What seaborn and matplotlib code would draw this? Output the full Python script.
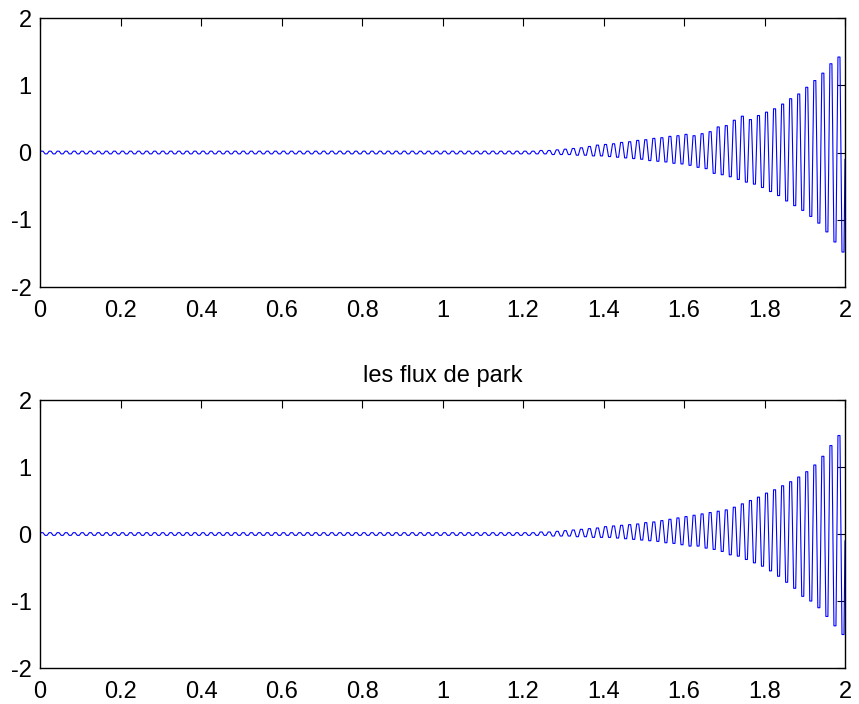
import numpy as np
import matplotlib
matplotlib.use('Agg')
import matplotlib.pyplot as plt
import pandas as pd
import seaborn as sns


#%% DATOS (picos por ciclo; 50 Hz -> 100 ciclos en 2 s)

## Grafico de arriba ----
pico_sup_1 = ([0.02] * 60 +
              [0.02, 0.02, 0.03, 0.03, 0.04, 0.05, 0.06, 0.07, 0.09, 0.11,
               0.12, 0.13, 0.15, 0.16, 0.18, 0.19, 0.21, 0.22, 0.24, 0.25,
               0.27, 0.25, 0.28, 0.31, 0.38, 0.40, 0.48, 0.54, 0.49, 0.55,
               0.60, 0.65, 0.72, 0.80, 0.87, 0.97, 1.07, 1.18, 1.32, 1.42])
pico_inf_1 = ([-0.02] * 60 +
              [-0.02, -0.02, -0.02, -0.03, -0.03, -0.03, -0.04, -0.04, -0.05, -0.05,
               -0.06, -0.07, -0.08, -0.09, -0.10, -0.12, -0.13, -0.14, -0.16, -0.17,
               -0.19, -0.22, -0.24, -0.31, -0.33, -0.36, -0.40, -0.44, -0.47, -0.52,
               -0.58, -0.64, -0.72, -0.79, -0.86, -0.95, -1.05, -1.18, -1.33, -1.48])

## Grafico de abajo (les flux de park) ----
pico_sup_2 = ([0.02] * 60 +
              [0.02, 0.02, 0.03, 0.03, 0.04, 0.05, 0.06, 0.07, 0.08, 0.09,
               0.11, 0.12, 0.13, 0.14, 0.15, 0.17, 0.18, 0.20, 0.22, 0.24,
               0.26, 0.28, 0.30, 0.32, 0.34, 0.36, 0.40, 0.45, 0.50, 0.55,
               0.61, 0.66, 0.72, 0.78, 0.85, 0.93, 1.03, 1.16, 1.32, 1.47])
pico_inf_2 = ([-0.02] * 60 +
              [-0.02, -0.02, -0.02, -0.03, -0.03, -0.03, -0.04, -0.04, -0.05, -0.05,
               -0.05, -0.06, -0.07, -0.08, -0.09, -0.10, -0.11, -0.13, -0.14, -0.16,
               -0.18, -0.18, -0.21, -0.23, -0.26, -0.31, -0.33, -0.38, -0.43, -0.48,
               -0.55, -0.63, -0.72, -0.81, -0.93, -1.00, -1.10, -1.23, -1.37, -1.50])

xticks = [0, 0.2, 0.4, 0.6, 0.8, 1, 1.2, 1.4, 1.6, 1.8, 2]
yticks = [-2, -1, 0, 1, 2]
titulo_abajo = "les flux de park"


#%% ARMADO DE LA SEÑAL (cada pico se mantiene un rato -> onda casi cuadrada)

def armar_senal(sup, inf):
    k = np.arange(len(sup))
    t = np.empty(4 * len(sup))
    y = np.empty(4 * len(sup))
    t[0::4] = 0.02 * k + 0.0025
    t[1::4] = 0.02 * k + 0.0075
    t[2::4] = 0.02 * k + 0.0125
    t[3::4] = 0.02 * k + 0.0175
    y[0::4] = sup
    y[1::4] = sup
    y[2::4] = inf
    y[3::4] = inf
    t = np.concatenate([[0.0], t, [2.0]])
    y = np.concatenate([[0.0], y, [-0.1]])
    return pd.DataFrame({'t': t, 'flux': y})

senal_1 = armar_senal(pico_sup_1, pico_inf_1)
senal_2 = armar_senal(pico_sup_2, pico_inf_2)


#%% GRAFICO

sns.set_style('white')
plt.rcParams['font.family'] = ['Liberation Sans', 'DejaVu Sans']
plt.rcParams['axes.unicode_minus'] = False
plt.rcParams['xtick.direction'] = 'in'
plt.rcParams['ytick.direction'] = 'in'
plt.rcParams['text.color'] = 'black'

fig = plt.figure(figsize=(8.59, 7.04), dpi=100)
ax1 = fig.add_axes([0.0466, 0.5923, 0.9371, 0.3821])
ax2 = fig.add_axes([0.0466, 0.0511, 0.9371, 0.3807])

for ax, senal in [(ax1, senal_1), (ax2, senal_2)]:
    sns.lineplot(data=senal, x='t', y='flux', ax=ax, color='#0000ff',
                 linewidth=0.8, estimator=None, sort=False)
    ax.set_xlim(0, 2)
    ax.set_ylim(-2, 2)
    ax.set_xticks(xticks)
    ax.set_xticklabels(['%g' % v for v in xticks])
    ax.set_yticks(yticks)
    ax.set_yticklabels(['%g' % v for v in yticks])
    ax.set_xlabel('')
    ax.set_ylabel('')
    ax.tick_params(axis='both', which='both', top=True, right=True,
                   length=6, width=0.8, labelsize=17, colors='black')
    ax.tick_params(axis='x', pad=9)
    ax.tick_params(axis='y', pad=6)
    for s in ax.spines.values():
        s.set_color('black')
        s.set_linewidth(1.0)

ax2.set_title(titulo_abajo, fontsize=17, pad=13, color='black')

fig.savefig('out.png', dpi=100)
